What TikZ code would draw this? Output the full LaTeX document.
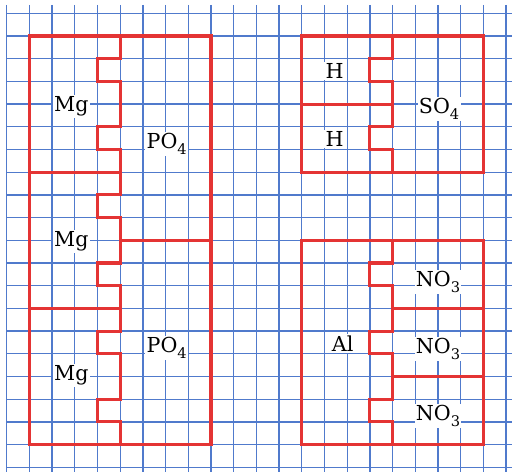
\documentclass[tikz,border=0pt]{standalone}
\usepackage{fontspec}
\setmainfont{DejaVu Serif}
\definecolor{gridblue}{RGB}{80,122,204}
\definecolor{bondred}{RGB}{228,52,52}
\newcommand{\ionsub}[1]{\raisebox{-0.55ex}{\fontsize{11}{11}\selectfont #1}}
\tikzset{
    gridline/.style={gridblue, line width=1pt},
    bond/.style={bondred, line width=2.3pt},
    ion/.style={fill=white, inner sep=1pt, font=\fontsize{15.5}{18}\selectfont},
}
\begin{document}
\begin{tikzpicture}[x=0.6cm, y=0.6cm]
\useasboundingbox (-0.295,0.586) rectangle (22.26,-20.21);

% squared paper
\foreach \i in {0,...,22} {
    \draw[gridline] (\i,0.37) -- (\i,-20.21);
}
\foreach \j in {0,...,20} {
    \draw[gridline] (0,-\j) -- (22.26,-\j);
}

% Mg3(PO4)2
\draw[bond] (1,-1) rectangle (9,-19);
\draw[bond]
    (5,-1)--(5,-2)--(4,-2)--(4,-3)--(5,-3)--(5,-5)--(4,-5)--(4,-6)--(5,-6)
    --(5,-8)--(4,-8)--(4,-9)--(5,-9)--(5,-11)--(4,-11)--(4,-12)--(5,-12)
    --(5,-14)--(4,-14)--(4,-15)--(5,-15)--(5,-17)--(4,-17)--(4,-18)--(5,-18)--(5,-19)
    (1,-7)--(5,-7)
    (5,-10)--(9,-10)
    (1,-13)--(5,-13);

% H2SO4
\draw[bond] (13,-1) rectangle (21,-7);
\draw[bond]
    (17,-1)--(17,-2)--(16,-2)--(16,-3)--(17,-3)--(17,-5)--(16,-5)--(16,-6)--(17,-6)--(17,-7)
    (13,-4)--(17,-4);

% Al(NO3)3
\draw[bond] (13,-10) rectangle (21,-19);
\draw[bond]
    (17,-10)--(17,-11)--(16,-11)--(16,-12)--(17,-12)--(17,-14)--(16,-14)--(16,-15)--(17,-15)
    --(17,-17)--(16,-17)--(16,-18)--(17,-18)--(17,-19)
    (17,-13)--(21,-13)
    (17,-16)--(21,-16);

\node[ion] (mgA) at (2.85,-4.1) {Mg};
\node[ion] (mgB) at (2.85,-10.05) {Mg};
\node[ion] (mgC) at (2.85,-15.95) {Mg};
\node[ion] (poA) at (7.05,-5.75) {PO\ionsub{4}};
\node[ion] (poB) at (7.05,-14.75) {PO\ionsub{4}};

\node[ion] (hA) at (14.45,-2.53) {H};
\node[ion] (hB) at (14.45,-5.55) {H};
\node[ion] (so) at (19.05,-4.22) {SO\ionsub{4}};

\node[ion] (al) at (14.8,-14.54) {Al};
\node[ion] (noA) at (19,-11.85) {NO\ionsub{3}};
\node[ion] (noB) at (19,-14.8) {NO\ionsub{3}};
\node[ion] (noC) at (19,-17.75) {NO\ionsub{3}};
\end{tikzpicture}
\end{document}
